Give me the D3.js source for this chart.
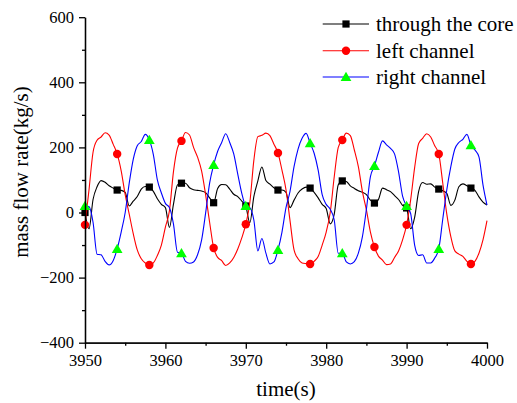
<!DOCTYPE html>
<html lang="en">
	<head>
		<meta charset="utf-8">
		<title>Mass flow rate</title>
		<style>
			body {
				margin: 0;
				background: #fff;
			}

			text {
				font-family: "Liberation Serif", "Times New Roman", serif;
				fill: #000;
			}

			.axis path,
			.axis line {
				stroke: #000;
				stroke-width: 1.3px;
				fill: none;
			}

			.title {
				font-size: 21px;
			}

			.legend text {
				font-size: 21px;
			}
		</style>
	</head>
	<body>

		<script src="https://cdn.jsdelivr.net/npm/d3@7"></script>
		<script>
			var tStart = 3950,
			    tStep = 0.5;

			var core = [
				0, -50, 40, 79, 98, 93, 82, 75, 69, 68,
				62, 20, 35, 49, 72, 80, 78, 65, 42, 25,
				15, -46, 25, 85, 90, 90, 76, 70, 68, 66,
				61, 45, 30, 74, 86, 85, 72, 56, 49, 35,
				20, -32, 49, 97, 140, 98, 87, 76, 69, 69,
				62, 15, 38, 60, 72, 78, 75, 62, 45, 25,
				12, -35, -5, 85, 97, 95, 82, 74, 67, 62,
				55, 38, 29, 40, 75, 70, 64, 52, 40, 22,
				14, -50, -15, 65, 92, 87, 88, 78, 72, 67,
				59, 22, 38, 79, 88, 82, 75, 68, 48, 32,
				23
			];

			var leftChannel = [
				-38, 70, 185, 222, 232, 245, 238, 210, 180, 128,
				55, -5, -65, -115, -142, -155, -161, -155, -132, -100,
				-45, 5, 125, 198, 220, 246, 238, 200, 170, 128,
				55, -30, -109, -138, -148, -163, -155, -138, -112, -78,
				-36, 30, 160, 233, 237, 244, 236, 210, 183, 130,
				70, -25, -115, -142, -155, -157, -158, -150, -135, -100,
				-60, 0, 110, 200, 223, 244, 236, 192, 141, 65,
				8, -60, -106, -134, -146, -160, -158, -138, -118, -84,
				-38, 38, 138, 212, 228, 242, 232, 205, 180, 90,
				-5, -74, -118, -128, -135, -150, -158, -150, -125, -84,
				-25
			];

			var rightChannel = [
				20, 18, -30, -128, -130, -150, -161, -148, -112, -60,
				0, 90, 163, 205, 218, 240, 223, 178, 100, 60,
				28, 15, -35, -122, -125, -150, -156, -152, -130, -85,
				-2, 90, 146, 188, 215, 242, 215, 180, 118, 59,
				20, 15, -23, -118, -80, -125, -158, -152, -115, -60,
				15, 65, 141, 195, 228, 243, 213, 182, 130, 55,
				25, 10, -23, -125, -125, -152, -158, -151, -125, -75,
				10, 110, 143, 185, 220, 208, 197, 180, 125, 50,
				20, -3, -100, -132, -130, -155, -155, -140, -112, -20,
				70, 141, 195, 215, 225, 240, 207, 192, 171, 85,
				23
			];

			// a symbol is drawn every 4 s
			var markerTimes = [3950, 3954, 3958, 3962, 3966, 3970, 3974, 3978, 3982, 3986, 3990, 3994, 3998];

			var xTicks = [3950, 3960, 3970, 3980, 3990, 4000],
			    xMinor = [3955, 3965, 3975, 3985, 3995],
			    yTicks = [-400, -200, 0, 200, 400, 600],
			    yMinor = [-300, -100, 100, 300, 500];

			var seriesNames = ["through the core", "left channel", "right channel"];


			var w = 517,
			    h = 403,
			    serif = "'Liberation Serif', 'Times New Roman', serif";

			var svg = d3.select("body").append("svg")
			  .attr("width", w)
			  .attr("height", h);

			var xScale = d3.scaleLinear()
			  .domain([3950, 4000])
			  .range([85, 487]);

			var yScale = d3.scaleLinear()
			  .domain([-400, 600])
			  .range([342.7, 17.2]);

			// symbol shapes (square, circle, triangle) with their colours
			var series = [
				{ name: seriesNames[0], values: core, line: "#000000", fill: "#000000", symbol: d3.symbolSquare, size: 52 },
				{ name: seriesNames[1], values: leftChannel, line: "#ff0000", fill: "#ff0000", symbol: d3.symbolCircle, size: 56 },
				{ name: seriesNames[2], values: rightChannel, line: "#0000ff", fill: "#00ff00", symbol: d3.symbolTriangle, size: 50 }
			];

			function timeOf(i) { return tStart + i * tStep; }

			var line = d3.line()
			  .x(function(d, i) { return xScale(timeOf(i)); })
			  .y(function(d) { return yScale(d); })
			  .curve(d3.curveMonotoneX);


			// lines and symbols, one series after the other
			series.forEach(function(s) {
				var g = svg.append("g");

				g.append("path")
				  .attr("d", line(s.values))
				  .attr("fill", "none")
				  .attr("stroke", s.line)
				  .attr("stroke-width", 1.1);

				g.selectAll("path.sym")
				  .data(markerTimes)
				  .enter()
				  .append("path")
				  .attr("class", "sym")
				  .attr("d", d3.symbol().type(s.symbol).size(s.size))
				  .attr("fill", s.fill)
				  .attr("transform", function(t) {
						var v = s.values[Math.round((t - tStart) / tStep)];
						var dy = s.symbol === d3.symbolTriangle ? 1 : 0;
						return "translate(" + xScale(t) + "," + (yScale(v) + dy) + ")";
					});
			});


			// axes: major ticks with labels, minor ticks without
			function styleAxis(g) {
				g.attr("class", "axis")
				  .attr("font-family", serif)
				  .attr("font-size", 16.5);
				g.selectAll("text")
				  .style("font-family", serif)
				  .style("font-size", "16.5px")
				  .attr("fill", "#000");
			}

			svg.append("g")
			  .attr("transform", "translate(0," + yScale(-400) + ")")
			  .call(d3.axisBottom(xScale).tickValues(xTicks).tickFormat(d3.format("d"))
			    .tickSize(6).tickSizeOuter(0).tickPadding(6))
			  .call(styleAxis);

			svg.append("g")
			  .attr("transform", "translate(0," + yScale(-400) + ")")
			  .call(d3.axisBottom(xScale).tickValues(xMinor).tickSize(3).tickSizeOuter(0).tickFormat(""))
			  .call(styleAxis);

			svg.append("g")
			  .attr("transform", "translate(" + xScale(3950) + ",0)")
			  .call(d3.axisLeft(yScale).tickValues(yTicks).tickFormat(d3.format("d"))
			    .tickSize(6).tickSizeOuter(0).tickPadding(5))
			  .call(styleAxis);

			svg.append("g")
			  .attr("transform", "translate(" + xScale(3950) + ",0)")
			  .call(d3.axisLeft(yScale).tickValues(yMinor).tickSize(3).tickSizeOuter(0).tickFormat(""))
			  .call(styleAxis);


			// axis titles
			svg.append("text")
			  .attr("class", "title")
			  .attr("text-anchor", "middle")
			  .attr("x", 286)
			  .attr("y", 396)
			  .text("time(s)");

			svg.append("text")
			  .attr("class", "title")
			  .attr("text-anchor", "middle")
			  .attr("transform", "translate(28,172) rotate(-90)")
			  .text("mass flow rate(kg/s)");


			// legend
			var legend = svg.append("g")
			  .attr("class", "legend");

			var rows = [24, 50.7, 77];

			series.forEach(function(s, i) {
				legend.append("line")
				  .attr("x1", 322.7)
				  .attr("x2", 369)
				  .attr("y1", rows[i])
				  .attr("y2", rows[i])
				  .attr("stroke", s.line)
				  .attr("stroke-width", 1.1);

				legend.append("path")
				  .attr("d", d3.symbol().type(s.symbol).size(s.size))
				  .attr("fill", s.fill)
				  .attr("transform", "translate(346," + (rows[i] + (i === 2 ? 1 : 0)) + ")");

				legend.append("text")
				  .attr("x", 376)
				  .attr("y", rows[i] + 7)
				  .text(s.name);
			});
		</script>
	</body>
</html>
